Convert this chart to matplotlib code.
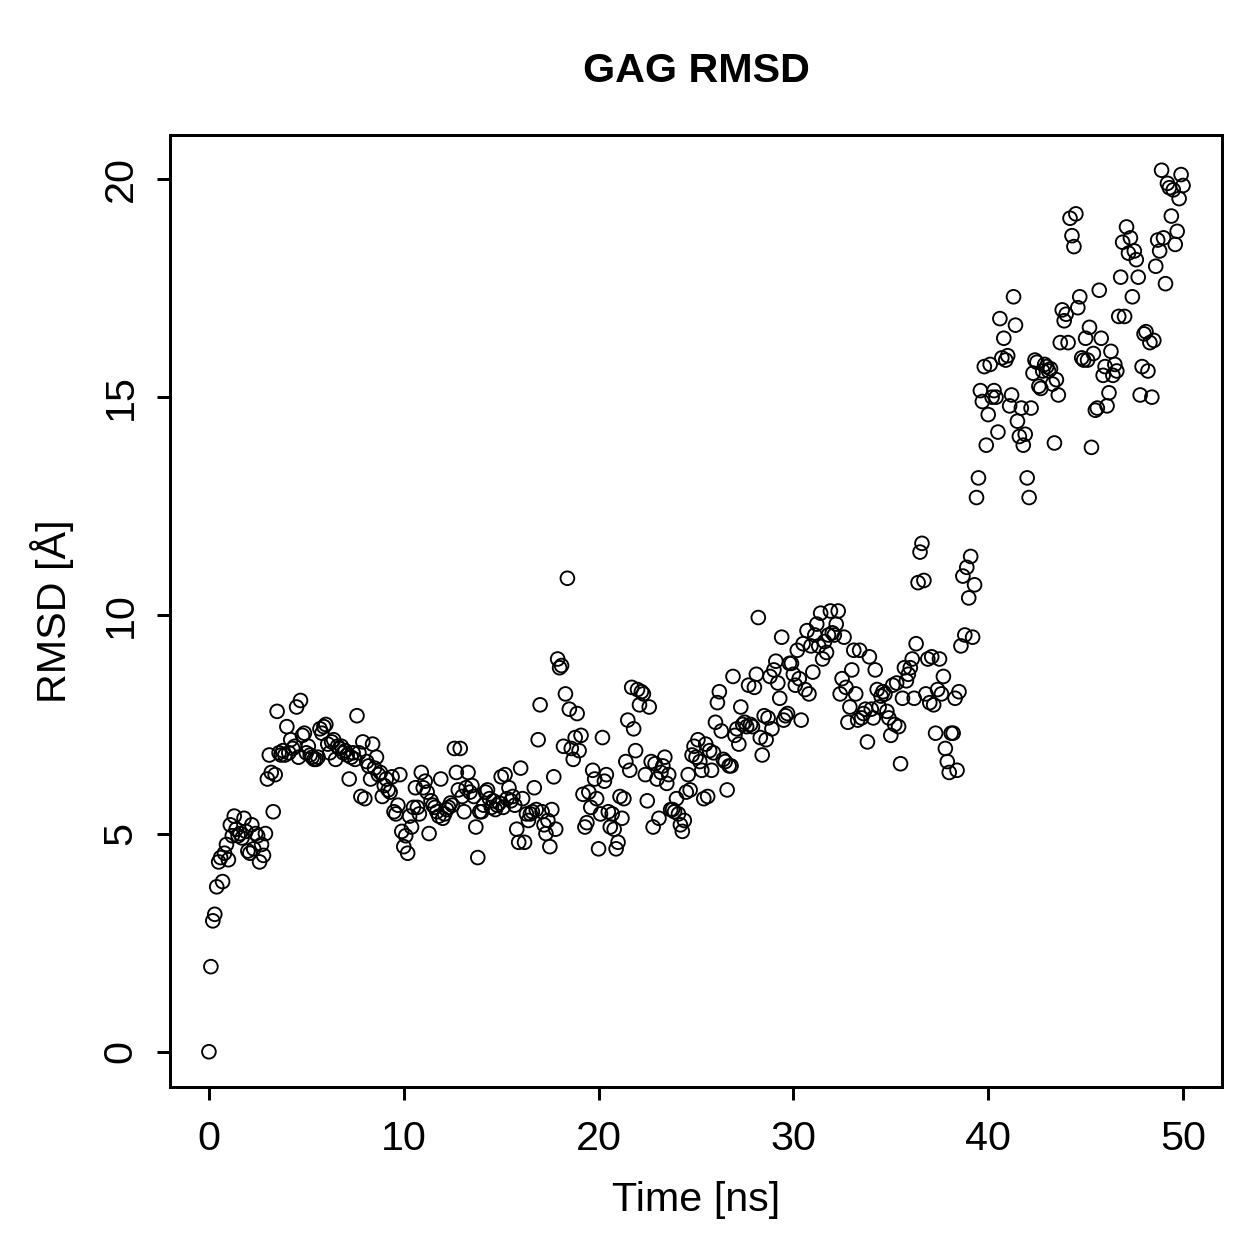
import numpy as np
import matplotlib
matplotlib.use("Agg")
import matplotlib.pyplot as plt

plt.rcParams['font.family'] = ['Liberation Sans', 'DejaVu Sans']

# RMSD values, one per 0.1 ns (0 .. 50 ns)
rmsd_00_10 = [
    0.0, 1.95, 3.0, 3.15, 3.78, 4.35, 4.45, 3.9, 4.55, 4.75,
    4.4, 5.2, 4.95, 5.4, 5.1, 4.95, 5.0, 4.9, 5.35, 5.05,
    4.6, 4.55, 5.2, 4.65, 5.0, 4.95, 4.35, 4.75, 4.5, 5.0,
    6.25, 6.8, 6.4, 5.5, 6.35, 7.8, 6.85, 6.8, 6.9, 6.8,
    7.45, 6.85, 7.15, 6.95, 7.0, 7.9, 6.75, 8.05, 7.25, 7.3,
    6.85, 7.0, 6.8, 6.75, 6.7, 6.7, 6.75, 7.4, 7.3, 7.45,
    7.5, 7.05, 6.85, 7.1, 7.15, 6.7, 7.0, 6.95, 7.0, 6.85,
    6.9, 6.8, 6.25, 6.75, 6.85, 6.7, 7.7, 6.85, 5.85, 7.1,
    5.8, 6.65, 6.55, 6.25, 7.05, 6.5, 6.75, 6.35, 6.4, 5.85,
    6.1, 6.25, 6.0, 5.95, 6.3, 5.5, 5.45, 5.65, 6.35, 5.05,
]
rmsd_10_20 = [
    4.7, 4.95, 4.55, 5.4, 5.15, 5.6, 6.05, 5.6, 5.45, 6.4,
    6.05, 6.2, 5.95, 5.0, 5.75, 5.65, 5.6, 5.5, 5.4, 6.25,
    5.35, 5.45, 5.55, 5.6, 5.7, 5.65, 6.95, 6.4, 6.0, 6.95,
    5.85, 5.5, 6.05, 6.4, 5.95, 6.1, 5.85, 5.15, 4.45, 5.5,
    5.5, 5.65, 5.95, 6.0, 5.8, 5.6, 5.75, 5.55, 5.65, 5.7,
    6.3, 5.6, 6.35, 5.8, 6.05, 5.75, 5.85, 5.65, 5.1, 4.8,
    6.5, 5.8, 4.8, 5.45, 5.3, 5.45, 5.5, 6.05, 5.55, 7.15,
    7.95, 5.5, 5.2, 5.0, 5.3, 4.7, 5.55, 6.3, 5.1, 9.0,
    8.8, 8.85, 7.0, 8.2, 10.85, 7.85, 6.95, 6.7, 7.2, 7.75,
    6.9, 7.25, 5.9, 5.15, 5.25, 5.95, 5.6, 6.45, 6.25, 5.8,
]
rmsd_20_30 = [
    4.65, 5.45, 7.2, 6.2, 6.35, 5.5, 5.15, 5.45, 5.1, 4.65,
    4.8, 5.85, 5.35, 5.8, 6.65, 7.6, 6.45, 8.35, 7.4, 6.9,
    8.3, 7.95, 8.25, 8.2, 6.35, 5.75, 7.9, 6.65, 5.15, 6.6,
    6.25, 5.35, 6.4, 6.55, 6.75, 6.15, 6.35, 5.55, 5.55, 5.5,
    5.8, 5.45, 5.2, 5.05, 5.3, 5.95, 6.35, 6.0, 6.8, 7.0,
    6.75, 7.15, 6.65, 6.45, 5.8, 7.05, 5.85, 6.9, 6.45, 6.85,
    7.55, 8.0, 8.25, 7.35, 6.7, 6.65, 6.0, 6.55, 6.55, 8.6,
    7.25, 7.4, 7.05, 7.9, 7.5, 7.55, 7.45, 8.4, 7.5, 7.45,
    8.35, 8.65, 9.95, 7.2, 6.8, 7.7, 7.15, 7.65, 8.6, 7.4,
    8.75, 8.95, 8.45, 8.1, 9.5, 7.6, 7.7, 7.75, 8.9, 8.9,
]
rmsd_30_40 = [
    8.65, 8.4, 9.2, 8.55, 7.6, 9.35, 8.3, 9.65, 8.2, 9.3,
    8.7, 9.55, 9.8, 9.3, 10.05, 9.0, 9.4, 9.15, 9.55, 10.1,
    9.6, 9.55, 9.8, 10.1, 8.2, 8.55, 9.5, 8.35, 7.55, 7.9,
    8.75, 9.2, 8.2, 7.6, 9.2, 7.65, 7.75, 7.85, 7.1, 9.05,
    7.85, 7.65, 8.75, 8.3, 7.9, 8.15, 8.25, 8.2, 7.8, 7.65,
    7.25, 8.4, 7.5, 8.45, 7.45, 6.6, 8.1, 8.8, 8.5, 8.65,
    8.8, 9.0, 8.1, 9.35, 10.75, 11.45, 11.65, 10.8, 8.2, 9.0,
    8.0, 9.05, 7.95, 7.3, 8.3, 9.0, 8.2, 8.6, 6.95, 6.65,
    6.4, 7.3, 7.3, 8.1, 6.45, 8.25, 9.3, 10.9, 9.55, 11.1,
    10.4, 11.35, 9.5, 10.7, 12.7, 13.15, 15.15, 14.9, 15.7, 13.9,
]
rmsd_40_50 = [
    14.6, 15.75, 15.0, 15.15, 15.0, 14.2, 16.8, 15.9, 16.35, 15.85,
    15.95, 14.8, 15.05, 17.3, 16.65, 14.45, 14.1, 14.75, 13.9, 14.15,
    13.15, 12.7, 14.75, 15.55, 15.85, 15.8, 15.25, 15.2, 15.6, 15.75,
    15.7, 15.6, 15.65, 15.3, 13.95, 15.4, 15.05, 16.25, 17.0, 16.75,
    16.9, 16.25, 19.1, 18.7, 18.45, 19.2, 17.05, 17.3, 15.9, 15.85,
    16.35, 15.85, 16.6, 13.85, 16.0, 14.7, 14.75, 17.45, 16.35, 15.5,
    15.7, 14.8, 15.1, 16.05, 15.5, 15.75, 15.6, 16.85, 17.75, 18.55,
    16.85, 18.9, 18.3, 18.65, 17.3, 18.35, 18.15, 17.75, 15.05, 15.7,
    16.45, 16.5, 15.6, 16.25, 15.0, 16.3, 18.0, 18.6, 18.35, 20.2,
    18.65, 17.6, 19.9, 19.8, 19.15, 19.75, 18.5, 18.8, 19.55, 20.1,
    19.85,
]

rmsd = np.array(rmsd_00_10 + rmsd_10_20 + rmsd_20_30 + rmsd_30_40 + rmsd_40_50)
time_ns = np.arange(len(rmsd)) * 0.1

x_ticks = [0, 10, 20, 30, 40, 50]
y_ticks = [0, 5, 10, 15, 20]

fig = plt.figure(figsize=(1259 / 180, 1259 / 180), dpi=180)
ax = fig.add_axes([0.135, 0.1366, 0.8356, 0.7562])

ax.scatter(time_ns, rmsd, s=30, facecolors='none', edgecolors='black', linewidths=0.75)

# R-style 4% padding around data range
ax.set_xlim(-2, 52)
ax.set_ylim(-0.808, 21.008)
ax.set_xticks(x_ticks)
ax.set_yticks(y_ticks)
ax.set_yticklabels([str(v) for v in y_ticks], rotation=90, va='center')

for s in ax.spines.values():
    s.set_linewidth(1.2)

ax.tick_params(direction='out', length=5.2, width=1.2, labelsize=16.5, pad=8)
ax.tick_params(axis='y', pad=7)

ax.set_xlabel('Time [ns]', fontsize=16.5, labelpad=9)
ax.set_ylabel('RMSD [Å]', fontsize=16.5, labelpad=11)
ax.set_title('GAG RMSD', fontsize=16.5, fontweight='bold', pad=21)

fig.savefig('out.png', dpi=180)
